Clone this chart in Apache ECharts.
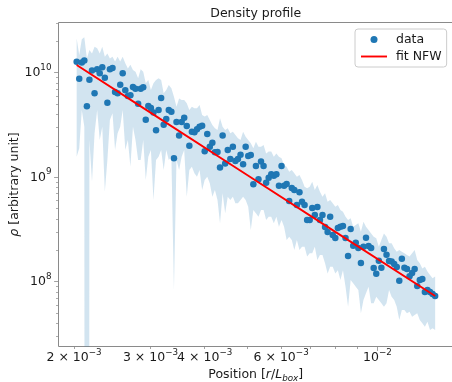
<!DOCTYPE html>
<html><head><meta charset="utf-8">
<script src="https://cdn.jsdelivr.net/npm/echarts@6/dist/echarts.min.js"></script>
<style>html,body{margin:0;padding:0;background:#fff}#c{width:452px;height:382px}</style>
</head><body><div id="c"></div>
<script>
// ---- data ----
const position = [
0.002028,0.002056,0.002084,0.002112,0.002141,0.002170,0.002200,0.002230,0.002261,0.002292,
0.002323,0.002355,0.002387,0.002419,0.002453,0.002486,0.002520,0.002555,0.002589,0.002625,
0.002661,0.002697,0.002734,0.002771,0.002810,0.002848,0.002887,0.002926,0.002966,0.003007,
0.003048,0.003090,0.003132,0.003175,0.003218,0.003262,0.003306,0.003352,0.003398,0.003444,
0.003492,0.003540,0.003588,0.003637,0.003687,0.003737,0.003788,0.003840,0.003893,0.003946,
0.004000,0.004055,0.004110,0.004166,0.004223,0.004281,0.004339,0.004399,0.004459,0.004520,
0.004582,0.004645,0.004708,0.004772,0.004838,0.004904,0.004971,0.005039,0.005108,0.005178,
0.005249,0.005321,0.005393,0.005467,0.005542,0.005617,0.005694,0.005772,0.005851,0.005931,
0.006013,0.006095,0.006178,0.006263,0.006349,0.006435,0.006523,0.006613,0.006703,0.006795,
0.006888,0.006982,0.007077,0.007174,0.007272,0.007372,0.007472,0.007575,0.007678,0.007783,
0.007890,0.007998,0.008107,0.008218,0.008330,0.008444,0.008559,0.008677,0.008795,0.008916,
0.009038,0.009162,0.009287,0.009413,0.009542,0.009672,0.009805,0.009939,0.010075,0.010213,
0.010353,0.010495,0.010638,0.010783,0.010931,0.011080,0.011231,0.011385,0.011540,0.011698,
0.011859,0.012021,0.012185,0.012352,0.012521,0.012692,0.012865,0.013041,0.013219,0.013400,
0.013585];
const density = [
1.27e10,8.77e9,1.25e10,1.31e10,4.77e9,8.58e9,1.05e10,6.35e9,1.08e10,9.86e9,
1.13e10,8.96e9,5.17e9,1.08e10,1.11e10,6.54e9,6.35e9,7.68e9,9.86e9,6.78e9,
5.98e9,6.07e9,7.30e9,7.04e9,5.05e9,7.04e9,7.24e9,3.55e9,4.80e9,4.59e9,
4.15e9,2.81e9,4.40e9,5.73e9,3.18e9,3.61e9,4.40e9,4.24e9,1.52e9,3.38e9,
2.50e9,3.38e9,3.71e9,3.09e9,2.00e9,2.73e9,2.69e9,2.87e9,3.04e9,3.11e9,
1.77e9,2.59e9,1.96e9,2.14e9,1.73e9,1.74e9,1.24e9,2.50e9,1.35e9,1.82e9,
1.49e9,1.96e9,1.43e9,1.49e9,1.64e9,1.33e9,1.96e9,1.60e9,1.63e9,8.55e8,
1.28e9,9.54e8,1.41e9,1.28e9,8.87e8,9.90e8,1.07e9,1.03e9,1.07e9,8.30e8,
1.28e9,8.30e8,8.61e8,5.92e8,7.88e8,7.54e8,5.42e8,7.17e8,5.83e8,5.42e8,
3.89e8,3.89e8,5.07e8,4.35e8,5.19e8,3.89e8,4.35e8,3.34e8,2.99e8,4.19e8,
2.80e8,2.62e8,3.26e8,3.36e8,3.41e8,2.62e8,1.76e8,3.19e8,2.21e8,2.36e8,
2.10e8,1.51e8,2.16e8,2.64e8,2.20e8,2.10e8,1.35e8,1.19e8,1.59e8,1.36e8,
2.06e8,1.81e8,1.58e8,1.56e8,1.48e8,1.38e8,1.02e8,1.66e8,1.36e8,1.32e8,
1.13e8,1.21e8,1.32e8,9.10e7,1.04e8,1.06e8,7.97e7,8.33e7,7.97e7,7.63e7,
7.30e7];
const densityUpper = [
2.13e10,1.48e10,2.09e10,2.18e10,1.37e10,1.65e10,1.53e10,1.77e10,1.71e10,1.53e10,
1.77e10,1.42e10,1.53e10,1.37e10,1.42e10,1.28e10,1.42e10,1.28e10,1.42e10,1.23e10,
1.10e10,1.19e10,1.06e10,1.02e10,8.83e9,1.08e10,1.02e10,7.91e9,8.52e9,6.83e9,
7.91e9,8.52e9,8.83e9,8.52e9,6.35e9,6.83e9,7.63e9,7.09e9,5.90e9,4.73e9,
5.68e9,5.48e9,5.48e9,5.09e9,4.40e9,4.73e9,4.56e9,4.56e9,4.91e9,3.94e9,
3.80e9,3.94e9,3.53e9,3.16e9,2.94e9,2.83e9,3.66e9,3.04e9,2.83e9,2.94e9,
2.63e9,2.73e9,2.53e9,2.36e9,2.27e9,2.73e9,2.44e9,2.27e9,2.11e9,1.89e9,
2.19e9,1.96e9,1.96e9,2.03e9,1.69e9,1.76e9,1.76e9,1.57e9,1.69e9,1.57e9,
1.52e9,1.31e9,1.26e9,1.13e9,1.17e9,1.09e9,1.01e9,1.05e9,9.40e8,8.12e8,
7.83e8,8.12e8,9.06e8,7.54e8,8.42e8,7.27e8,6.51e8,7.01e8,5.83e8,6.05e8,
5.62e8,5.22e8,5.42e8,4.86e8,4.68e8,4.19e8,3.89e8,4.04e8,3.36e8,3.49e8,
3.62e8,3.01e8,3.75e8,3.36e8,3.12e8,2.90e8,2.70e8,2.60e8,2.16e8,2.51e8,
2.90e8,2.70e8,2.33e8,2.33e8,2.09e8,1.94e8,2.01e8,1.94e8,1.87e8,1.80e8,
1.74e8,1.87e8,2.01e8,1.61e8,1.50e8,1.34e8,1.39e8,1.25e8,1.16e8,1.08e8,
1.12e8];
const densityLower = [
1.57e9,1.89e9,4.40e9,3.04e9,0,2.27e9,9.06e8,2.63e9,4.40e9,2.27e9,
3.04e9,7.27e8,1.46e9,3.53e9,4.09e9,1.82e9,2.63e9,3.04e9,4.40e9,1.82e9,
2.27e9,1.26e9,3.04e9,2.27e9,1.46e9,1.46e9,2.27e9,9.40e8,1.57e9,1.82e9,
6.05e8,1.46e9,1.57e9,1.82e9,1.17e9,1.82e9,1.46e9,1.57e9,8.33e7,1.46e9,
1.17e9,1.57e9,1.82e9,6.51e8,1.17e9,1.26e9,1.09e9,1.01e9,1.17e9,7.54e8,
9.40e8,1.01e9,8.74e8,6.51e8,7.54e8,6.05e8,3.62e8,7.01e8,4.51e8,6.51e8,
6.05e8,6.51e8,5.62e8,5.62e8,6.05e8,6.51e8,6.05e8,5.22e8,3.12e8,4.86e8,
4.51e8,4.19e8,4.86e8,4.86e8,3.89e8,4.19e8,4.19e8,3.62e8,4.19e8,3.36e8,
3.89e8,3.36e8,2.51e8,2.70e8,2.51e8,2.01e8,2.51e8,2.01e8,2.16e8,2.16e8,
1.74e8,1.87e8,1.87e8,2.16e8,1.61e8,1.80e8,1.80e8,1.50e8,1.20e8,1.39e8,
1.39e8,1.20e8,1.29e8,1.04e8,1.29e8,8.96e7,5.77e7,1.04e8,9.65e7,8.96e7,
8.33e7,4.98e7,6.68e7,7.74e7,8.96e7,6.21e7,6.21e7,7.19e7,6.68e7,6.21e7,
5.77e7,6.21e7,8.33e7,7.19e7,6.68e7,5.77e7,4.30e7,5.36e7,5.36e7,4.98e7,
5.17e7,4.63e7,4.80e7,4.98e7,4.30e7,4.00e7,3.71e7,4.14e7,3.45e7,3.58e7,
3.45e7];
const fitPosition = [0.002028, 0.003, 0.005, 0.008, 0.013585];
const fitDensity  = [1.185e10, 4.15e9, 1.057e9, 3.00e8, 7.29e7];

const xRange = [0.0018417, 0.014934];
const yRange = [2.399e7, 3.023e10];
const xLabelTicks = [0.002, 0.003, 0.004, 0.006, 0.01];
const xLabelText = [['2 × 10','−3'],['3 × 10','−3'],['4 × 10','−3'],['6 × 10','−3'],['10','−2']];
const xMinorTicks = [0.002,0.003,0.004,0.005,0.006,0.007,0.008,0.009];
const xMajorTicks = [0.01];
const yLabelTicks = [1e8, 1e9, 1e10];
const yLabelText = [['10','8'],['10','9'],['10','10']];
const yMinorTicks = [3e7,4e7,5e7,6e7,7e7,8e7,9e7,2e8,3e8,4e8,5e8,6e8,7e8,8e8,9e8,
                     2e9,3e9,4e9,5e9,6e9,7e9,8e9,9e9,2e10,3e10];

// ---- chart ----
const lg = v => v > 0 ? Math.log10(v) : -30;
const FONT = 'DejaVu Sans';
const TXT = '#1a1a1a';
const SPINE = '#8a8a8a';
const findIdx = (arr, v) => arr.findIndex(t => Math.abs(lg(t) - v) < 1e-6);
const richTick = {
  b: {fontSize: 12.5, fontFamily: FONT, color: TXT, lineHeight: 14, verticalAlign: 'bottom'},
  s: {fontSize: 8.75, fontFamily: FONT, color: TXT, lineHeight: 10, padding: [0,0,7.5,0], verticalAlign: 'bottom'}
};
const xBase = {type: 'value', min: lg(xRange[0]), max: lg(xRange[1]), position: 'bottom',
  axisLine: {show: false}, splitLine: {show: false}};
const yBase = {type: 'value', min: lg(yRange[0]), max: lg(yRange[1]), position: 'left',
  axisLine: {show: false}, splitLine: {show: false}};

const chart = echarts.init(document.getElementById('c'), null, {renderer: 'canvas'});
chart.setOption({
  animation: false,
  textStyle: {fontFamily: FONT},
  title: {text: 'Density profile', left: 255.75, top: 6.5, padding: 0, textAlign: 'center',
    textStyle: {fontSize: 12.5, fontWeight: 'normal', color: TXT, fontFamily: FONT, lineHeight: 15}},
  grid: {left: 58.5, top: 22.5, width: 394.5, height: 324, show: true, borderColor: SPINE, borderWidth: 1,
    backgroundColor: 'transparent', outerBoundsMode: 'none', containLabel: false},
  legend: {
    data: [{name: 'data', icon: 'circle'}, {name: 'fit NFW', icon: 'path://M0,0H26V1.9H0Z'}],
    orient: 'vertical', left: 355, top: 29,
    padding: [4, 5, 4, 6], itemGap: 4, itemWidth: 26, itemHeight: 7,
    backgroundColor: 'rgba(255,255,255,0.8)', borderColor: '#cccccc', borderWidth: 1, borderRadius: 3,
    textStyle: {fontSize: 12.5, color: TXT, fontFamily: FONT, padding: [0,0,0,4]},
    selectedMode: false
  },
  xAxis: [
    Object.assign({}, xBase, {
      axisTick: {show: true, customValues: xMinorTicks.map(lg), length: 2.5, lineStyle: {color: SPINE, width: 0.8}},
      axisLabel: {show: true, customValues: xLabelTicks.map(lg), margin: 4,
        formatter: v => { const i = findIdx(xLabelTicks, v); return '{b|' + xLabelText[i][0] + '}{s|' + xLabelText[i][1] + '}'; },
        rich: richTick},
      name: '{n|Position [}{i|r}{n|/}{i|L}{sb|box}{n|]}', nameLocation: 'middle', nameGap: 22, nameMoveOverlap: false,
      nameTextStyle: {rich: {
        n: {fontSize: 12.5, fontFamily: FONT, color: TXT, lineHeight: 15, verticalAlign: 'top'},
        i: {fontSize: 12.5, fontFamily: FONT, fontStyle: 'italic', color: TXT, lineHeight: 15, verticalAlign: 'top'},
        sb: {fontSize: 8.75, fontFamily: FONT, fontStyle: 'italic', color: TXT, lineHeight: 10, padding: [6,0,0,0], verticalAlign: 'top'}
      }}
    }),
    Object.assign({}, xBase, {
      axisTick: {show: true, customValues: xMajorTicks.map(lg), length: 4.4, lineStyle: {color: SPINE, width: 0.8}},
      axisLabel: {show: false}
    })
  ],
  yAxis: [
    Object.assign({}, yBase, {
      axisTick: {show: true, customValues: yMinorTicks.map(lg), length: 2.5, lineStyle: {color: SPINE, width: 0.7}},
      axisLabel: {show: true, customValues: yLabelTicks.map(lg), margin: 7,
        formatter: v => { const i = findIdx(yLabelTicks, v); return '{b|' + yLabelText[i][0] + '}{s|' + yLabelText[i][1] + '}'; },
        rich: richTick},
      name: '{i|ρ}{n| [arbitrary unit]}', nameLocation: 'middle', nameGap: 37, nameRotate: 90, nameMoveOverlap: false,
      nameTextStyle: {rich: {
        n: {fontSize: 12.5, fontFamily: FONT, color: TXT},
        i: {fontSize: 12.5, fontFamily: FONT, fontStyle: 'italic', color: TXT}
      }}
    }),
    Object.assign({}, yBase, {
      axisTick: {show: true, customValues: yLabelTicks.map(lg), length: 4.4, lineStyle: {color: SPINE, width: 0.8}},
      axisLabel: {show: false}
    })
  ],
  series: [
    {type: 'custom', name: 'band', silent: true, z: 1,
      data: [[lg(position[0]), lg(density[0])]],
      renderItem: (params, api) => {
        const pts = [];
        for (let i = 0; i < position.length; i++) pts.push(api.coord([lg(position[i]), lg(densityUpper[i])]));
        for (let i = position.length - 1; i >= 0; i--) pts.push(api.coord([lg(position[i]), lg(densityLower[i])]));
        const cs = params.coordSys;
        return {type: 'polygon', shape: {points: pts}, style: {fill: 'rgba(31,119,180,0.2)'},
          clipPath: {type: 'rect', shape: {x: cs.x, y: cs.y, width: cs.width, height: cs.height}}};
      }},
    {type: 'scatter', name: 'data', symbol: 'circle', symbolSize: 6.5, z: 3,
      itemStyle: {color: '#1f77b4', opacity: 1},
      data: position.map((x, i) => [lg(x), lg(density[i])])},
    {type: 'line', name: 'fit NFW', symbol: 'none', z: 4,
      lineStyle: {color: '#ff0000', width: 1.9}, itemStyle: {color: '#ff0000'},
      data: fitPosition.map((x, i) => [lg(x), lg(fitDensity[i])])}
  ]
});
</script></body></html>
